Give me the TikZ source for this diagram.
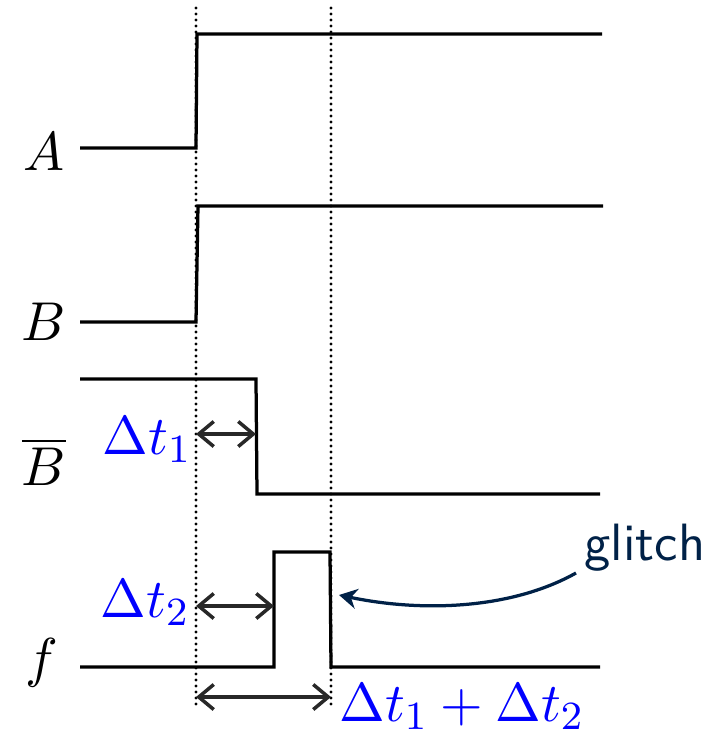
\documentclass[tikz,border=0pt]{standalone}
\usetikzlibrary{arrows.meta}
\definecolor{navy}{RGB}{0,33,71}
\definecolor{arrgray}{RGB}{40,40,40}
\begin{document}
\begin{tikzpicture}[x=0.2pt,y=-0.2pt,
  wave/.style={line width=0.65pt,black},
  dotmark/.style={fill=black},
  span/.style={line width=0.7pt,arrgray,{Straight Barb[length=3pt,width=5pt]}-{Straight Barb[length=3pt,width=5pt]}},
  sig/.style={font=\fontsize{10.5}{12}\selectfont},
  dlab/.style={blue,font=\fontsize{11}{13}\selectfont}]
\useasboundingbox (0,0) rectangle (723,735);
% guides (dotted)
\coordinate (g1t) at (196,8); \coordinate (g1b) at (196,708);
\coordinate (g2t) at (331,8); \coordinate (g2b) at (331,708);
\foreach \yy in {8,14,...,708} {
  \fill[dotmark] (196,\yy) circle (0.34pt);
  \fill[dotmark] (331,\yy) circle (0.34pt);
}
% waveforms
\draw[wave] (80,148) -- (196,148) -- (197,34) -- (602,34);
\draw[wave] (80,322) -- (196,322) -- (198,206) -- (603,206);
\draw[wave] (80,379) -- (256,379) -- (257,494) -- (600,494);
\draw[wave] (80,667) -- (274,667) -- (274,552) -- (330,552) -- (331,667) -- (600,667);
% labels
\node[sig] (lA) at (44,152) {$A$};
\node[sig] (lB) at (44,322) {$B$};
\node[sig] (lBb) at (44,462) {$\overline{B}$};
\node[sig] (lf) at (42,663) {$f$};
% delta arrows
\coordinate (d1a) at (196,434); \coordinate (d1b) at (256,434);
\coordinate (d2a) at (196,606); \coordinate (d2b) at (274,606);
\coordinate (d3a) at (196,697); \coordinate (d3b) at (331,697);
\draw[span] (d1a) -- (d1b);
\draw[span] (d2a) -- (d2b);
\draw[span] (d3a) -- (d3b);
\node[dlab,anchor=east,inner sep=0pt] (t1) at (193,440) {$\Delta t_1$};
\node[dlab,anchor=east,inner sep=0pt] (t2) at (191,603) {$\Delta t_2$};
\node[dlab,inner sep=0pt] (t3) at (462,707) {$\Delta t_1+\Delta t_2$};
% glitch
\node[navy,font=\sffamily\fontsize{10.5}{12}\selectfont,inner sep=0pt] (gl) at (645,548) {glitch};
\coordinate (gs) at (576,573);
\coordinate (ge) at (339,595);
\draw[navy,line width=0.65pt,-{Stealth[length=3.6pt,width=4pt]}] (gs) .. controls (510,610) and (420,612) .. (ge);
\end{tikzpicture}
\end{document}
